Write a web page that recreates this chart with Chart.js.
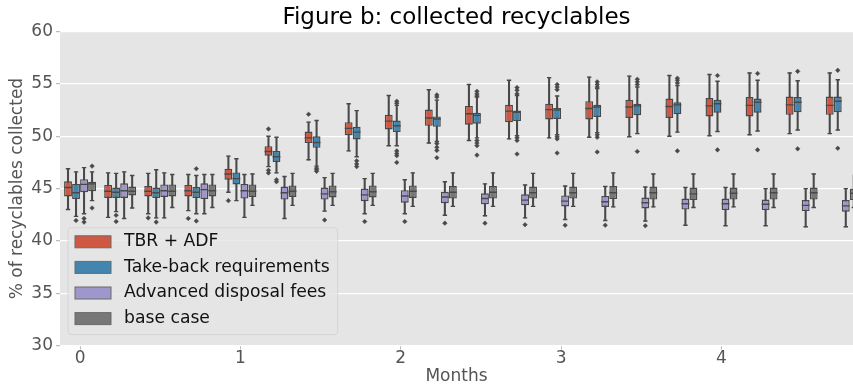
<!DOCTYPE html>
<html>
<head>
<meta charset="utf-8">
<title>Figure b: collected recyclables</title>
<script src="https://cdn.jsdelivr.net/npm/chart.js@4.4.1/dist/chart.umd.min.js"></script>
<style>
    html, body { margin: 0; padding: 0; background: #fff; }
    #wrap { width: 853px; height: 392px; }
</style>
</head>
<body>
<div id="wrap"><canvas id="myChart"></canvas></div>
<script>
// weekly time steps, 4 per month
const steps = [0, 1, 2, 3, 4, 5, 6, 7, 8, 9, 10, 11, 12, 13, 14, 15, 16, 17, 18, 19];
const monthTicks = [0, 4, 8, 12, 16];
const monthLabels = ['0', '1', '2', '3', '4'];

// TBR + ADF
const tbrLo  = [43.0, 42.25, 42.6, 42.9, 44.65, 47.1, 47.75, 48.6, 49.1, 49.35, 49.6, 49.75, 49.85, 49.9, 49.95, 50.0, 50.05, 50.15, 50.25, 50.25];
const tbrQ1  = [44.25, 44.1, 44.25, 44.25, 45.85, 48.15, 49.35, 50.1, 50.65, 51.0, 51.1, 51.35, 51.6, 51.6, 51.75, 51.75, 51.9, 51.9, 52.05, 52.05];
const tbrMed = [45.1, 44.75, 44.75, 44.8, 46.4, 48.55, 49.85, 50.75, 51.45, 51.75, 52.15, 52.4, 52.55, 52.65, 52.8, 52.85, 52.9, 52.95, 53.0, 52.95];
const tbrQ3  = [45.7, 45.35, 45.25, 45.35, 46.9, 49.05, 50.45, 51.35, 52.05, 52.55, 52.9, 53.0, 53.1, 53.35, 53.5, 53.6, 53.65, 53.75, 53.8, 53.8];
const tbrHi  = [46.9, 46.5, 46.45, 46.35, 48.1, 50.0, 51.35, 53.1, 53.9, 54.45, 54.95, 55.35, 55.6, 55.65, 55.75, 55.8, 55.9, 56.05, 56.05, 56.05];
const tbrOut = [[], [], [42.2], [42.15], [43.85], [50.7, 46.75, 46.5], [52.1], [], [], [], [], [], [], [], [], [], [], [], [], []];

// take-back requirements
const tbLo  = [42.35, 42.8, 42.2, 42.6, 43.85, 46.5, 47.15, 48.05, 49.1, 49.5, 49.85, 50.05, 50.15, 50.35, 50.25, 50.4, 50.45, 50.5, 50.6, 50.6];
const tbQ1  = [44.0, 44.1, 44.1, 44.1, 45.4, 47.55, 48.9, 49.7, 50.4, 50.9, 51.2, 51.45, 51.65, 51.85, 52.0, 52.1, 52.25, 52.25, 52.3, 52.3];
const tbMed = [44.6, 44.65, 44.6, 44.65, 45.95, 48.05, 49.4, 50.4, 51.0, 51.65, 52.0, 52.3, 52.5, 52.8, 52.9, 53.0, 53.1, 53.25, 53.25, 53.35];
const tbQ3  = [45.45, 45.1, 45.1, 45.15, 46.55, 48.6, 50.0, 50.9, 51.5, 51.9, 52.25, 52.45, 52.7, 53.0, 53.1, 53.25, 53.5, 53.6, 53.75, 53.8];
const tbHi  = [46.6, 46.45, 46.8, 46.25, 47.85, 49.9, 51.5, 52.45, 52.95, 53.45, 53.75, 53.9, 53.85, 54.55, 54.7, 54.85, 55.25, 55.35, 55.3, 55.4];
const tbOut = [[41.95], [42.45, 41.85], [41.8], [46.9, 41.9], [], [45.85, 45.65], [46.95, 46.8, 46.65], [47.65, 47.35, 47.1],
    [53.35, 53.15, 48.6, 48.35, 48.15, 47.5], [53.95, 53.75, 49.3, 48.95, 48.65, 47.95], [54.3, 54.05, 53.85, 49.6, 49.35, 49.1, 48.2],
    [54.65, 54.4, 54.05, 49.85, 49.6, 48.3], [54.95, 54.7, 54.45, 49.95, 49.75, 48.4], [55.2, 54.95, 54.7, 50.15, 49.9, 48.5],
    [55.45, 55.2, 54.95, 48.55], [55.55, 55.35, 55.1, 48.6], [55.8, 48.7], [56.0, 48.7], [56.2, 48.8], [56.3, 48.85]];

// advanced disposal fees
const adfLo  = [42.6, 42.15, 42.2, 42.6, 42.25, 42.15, 42.85, 42.6, 42.6, 42.45, 42.4, 42.2, 42.05, 41.95, 41.9, 41.5, 41.45, 41.45, 41.35, 41.35];
const adfQ1  = [44.65, 44.1, 44.2, 44.0, 44.05, 43.95, 43.95, 43.8, 43.65, 43.6, 43.5, 43.4, 43.3, 43.25, 43.1, 43.0, 42.95, 42.95, 42.85, 42.8];
const adfMed = [45.4, 44.8, 44.8, 44.9, 44.8, 44.6, 44.5, 44.4, 44.3, 44.2, 44.05, 43.9, 43.8, 43.75, 43.65, 43.55, 43.55, 43.5, 43.4, 43.35];
const adfQ3  = [45.9, 45.5, 45.4, 45.5, 45.45, 45.2, 45.1, 45.0, 44.85, 44.7, 44.55, 44.45, 44.35, 44.3, 44.15, 44.05, 44.05, 43.95, 43.9, 43.9];
const adfHi  = [47.0, 46.6, 46.5, 46.35, 46.35, 46.15, 46.05, 45.95, 45.85, 45.65, 45.45, 45.35, 45.25, 45.2, 45.15, 45.1, 45.1, 45.0, 45.0, 45.0];
const adfOut = [[42.15, 41.8], [], [], [], [], [], [42.0], [41.85], [41.85], [41.7], [41.7], [41.55], [41.5], [41.5], [41.45], [], [], [], [], []];

// base case
const baseLo  = [43.85, 43.15, 43.2, 43.2, 43.4, 43.4, 43.4, 43.4, 43.3, 43.3, 43.3, 43.3, 43.3, 43.25, 43.25, 43.2, 43.25, 43.2, 43.2, 43.2];
const baseQ1  = [44.75, 44.35, 44.25, 44.25, 44.2, 44.2, 44.15, 44.15, 44.1, 44.05, 44.05, 44.05, 44.05, 44.0, 43.95, 43.9, 43.95, 43.95, 43.95, 43.9];
const baseMed = [45.45, 44.75, 44.75, 44.8, 44.75, 44.75, 44.7, 44.7, 44.75, 44.65, 44.65, 44.6, 44.6, 44.6, 44.6, 44.5, 44.55, 44.6, 44.6, 44.55];
const baseQ3  = [45.65, 45.2, 45.4, 45.4, 45.4, 45.3, 45.3, 45.3, 45.3, 45.25, 45.25, 45.2, 45.2, 45.25, 45.2, 45.1, 45.1, 45.1, 45.1, 45.0];
const baseHi  = [46.6, 46.25, 46.35, 46.35, 46.4, 46.45, 46.45, 46.45, 46.5, 46.5, 46.5, 46.45, 46.45, 46.5, 46.4, 46.4, 46.4, 46.4, 46.4, 46.35];
const baseOut = [[47.15, 43.15], [], [], [], [], [], [], [], [], [], [], [], [], [], [], [], [], [], [], []];

const seriesNames = ['TBR + ADF', 'Take-back requirements', 'Advanced disposal fees', 'base case'];
const seriesColors = ['#cf5843', '#4286b0', '#9e97cc', '#777777'];
const dodge = [-0.3, -0.1, 0.1, 0.3];
const edge = '#484848';

const series = [
    {lo: tbrLo, q1: tbrQ1, med: tbrMed, q3: tbrQ3, hi: tbrHi, out: tbrOut},
    {lo: tbLo, q1: tbQ1, med: tbMed, q3: tbQ3, hi: tbHi, out: tbOut},
    {lo: adfLo, q1: adfQ1, med: adfMed, q3: adfQ3, hi: adfHi, out: adfOut},
    {lo: baseLo, q1: baseQ1, med: baseMed, q3: baseQ3, hi: baseHi, out: baseOut}
];

const datasets = [];
series.forEach((s, k) => {
    const xs = steps.map(i => i + dodge[k]);
    // box from q1 to q3
    datasets.push({
        type: 'bar',
        label: seriesNames[k],
        legendEntry: true,
        data: steps.map(i => ({x: xs[i], y: [s.q1[i], s.q3[i]]})),
        backgroundColor: seriesColors[k],
        borderColor: edge,
        borderWidth: 1.4,
        borderSkipped: false,
        grouped: false,
        categoryPercentage: 1,
        barPercentage: 0.98,
        order: 2
    });
    // whisker
    datasets.push({
        type: 'bar',
        data: steps.map(i => ({x: xs[i], y: [s.lo[i], s.hi[i]]})),
        backgroundColor: edge,
        grouped: false,
        barThickness: 1.4,
        order: 3
    });
    // whisker caps
    datasets.push({
        type: 'scatter',
        data: steps.flatMap(i => [{x: xs[i], y: s.lo[i]}, {x: xs[i], y: s.hi[i]}]),
        pointStyle: 'line',
        pointRadius: 2.2,
        pointHoverRadius: 2.2,
        pointBorderColor: edge,
        pointBorderWidth: 1.4,
        order: 1
    });
    // median
    datasets.push({
        type: 'scatter',
        data: steps.map(i => ({x: xs[i], y: s.med[i]})),
        pointStyle: 'line',
        pointRadius: 3.9,
        pointHoverRadius: 3.9,
        pointBorderColor: edge,
        pointBorderWidth: 1.4,
        order: 1
    });
    // fliers
    datasets.push({
        type: 'scatter',
        data: steps.flatMap(i => s.out[i].map(v => ({x: xs[i], y: v}))),
        pointStyle: 'rectRot',
        pointRadius: 2.3,
        pointHoverRadius: 2.3,
        pointBackgroundColor: edge,
        pointBorderColor: edge,
        pointBorderWidth: 0.5,
        order: 1
    });
});

const plotBackground = {
    id: 'plotBackground',
    beforeDraw(chart) {
        const {ctx, chartArea: a} = chart;
        ctx.save();
        ctx.fillStyle = '#e5e5e5';
        ctx.fillRect(a.left, a.top, a.width, a.height);
        ctx.restore();
    }
};

// framed legend in the lower left corner of the axes
const boxLegend = {
    id: 'boxLegend',
    afterDatasetsDraw(chart) {
        const {ctx, chartArea: a} = chart;
        const items = chart.data.datasets.filter(ds => ds.legendEntry);
        const rowH = 25.6, swW = 36, swH = 12;
        ctx.save();
        ctx.font = '17.2px "DejaVu Sans", sans-serif';
        const textW = Math.max(...items.map(ds => ctx.measureText(ds.label).width));
        const w = 7 + swW + 13 + textW + 8;
        const h = 14 + rowH * (items.length - 1) + 16;
        const x0 = a.left + 8;
        const y0 = a.bottom - 11 - h;

        ctx.beginPath();
        ctx.roundRect(x0, y0, w, h, 3);
        ctx.fillStyle = 'rgba(229, 229, 229, 0.8)';
        ctx.fill();
        ctx.lineWidth = 0.8;
        ctx.strokeStyle = 'rgba(204, 204, 204, 0.8)';
        ctx.stroke();

        items.forEach((ds, k) => {
            const cy = y0 + 14 + k * rowH;
            ctx.fillStyle = ds.backgroundColor;
            ctx.fillRect(x0 + 7, cy - swH / 2, swW, swH);
            ctx.lineWidth = 1;
            ctx.strokeStyle = '#6a6a6a';
            ctx.strokeRect(x0 + 7, cy - swH / 2, swW, swH);
            ctx.fillStyle = '#111';
            ctx.textBaseline = 'middle';
            ctx.fillText(ds.label, x0 + 7 + swW + 13, cy);
        });
        ctx.restore();
    }
};

Chart.defaults.font.family = '"DejaVu Sans", sans-serif';
Chart.defaults.color = '#555';

const ctx = document.getElementById('myChart').getContext('2d');
const recyclablesChart = new Chart(ctx, {
    type: 'scatter',
    data: {datasets: datasets},
    plugins: [plotBackground, boxLegend],
    options: {
        responsive: true,
        maintainAspectRatio: false,
        animation: false,
        layout: {padding: 0, autoPadding: false},
        plugins: {
            legend: {display: false},
            tooltip: {enabled: false},
            title: {
                display: true,
                fullSize: false,
                text: 'Figure b: collected recyclables',
                color: '#000',
                font: {size: 23, weight: 'normal'},
                padding: {top: 4, bottom: 0}
            }
        },
        scales: {
            x: {
                type: 'linear',
                min: -0.5,
                max: 19.28,
                offset: false,
                afterBuildTicks: axis => {
                    axis.ticks = monthTicks.map(v => ({value: v}));
                },
                ticks: {
                    callback: value => monthLabels[monthTicks.indexOf(value)],
                    font: {size: 17, lineHeight: 1},
                    padding: 0,
                    maxRotation: 0,
                    autoSkip: false
                },
                grid: {drawOnChartArea: false, offset: false, tickLength: 4, tickColor: '#bbb'},
                border: {display: false},
                title: {
                    display: true,
                    text: 'Months',
                    font: {size: 17},
                    padding: {top: 0, bottom: 5}
                }
            },
            y: {
                min: 30,
                max: 60,
                afterFit: axis => { axis.width = 60; },
                ticks: {stepSize: 5, font: {size: 17}, padding: 3},
                grid: {color: '#fff', lineWidth: 1.2, tickLength: 4, tickColor: '#bbb'},
                border: {display: false},
                title: {
                    display: true,
                    text: '% of recyclables collected',
                    font: {size: 17},
                    padding: {top: 7, bottom: 4}
                }
            }
        }
    }
});
</script>
</body>
</html>
